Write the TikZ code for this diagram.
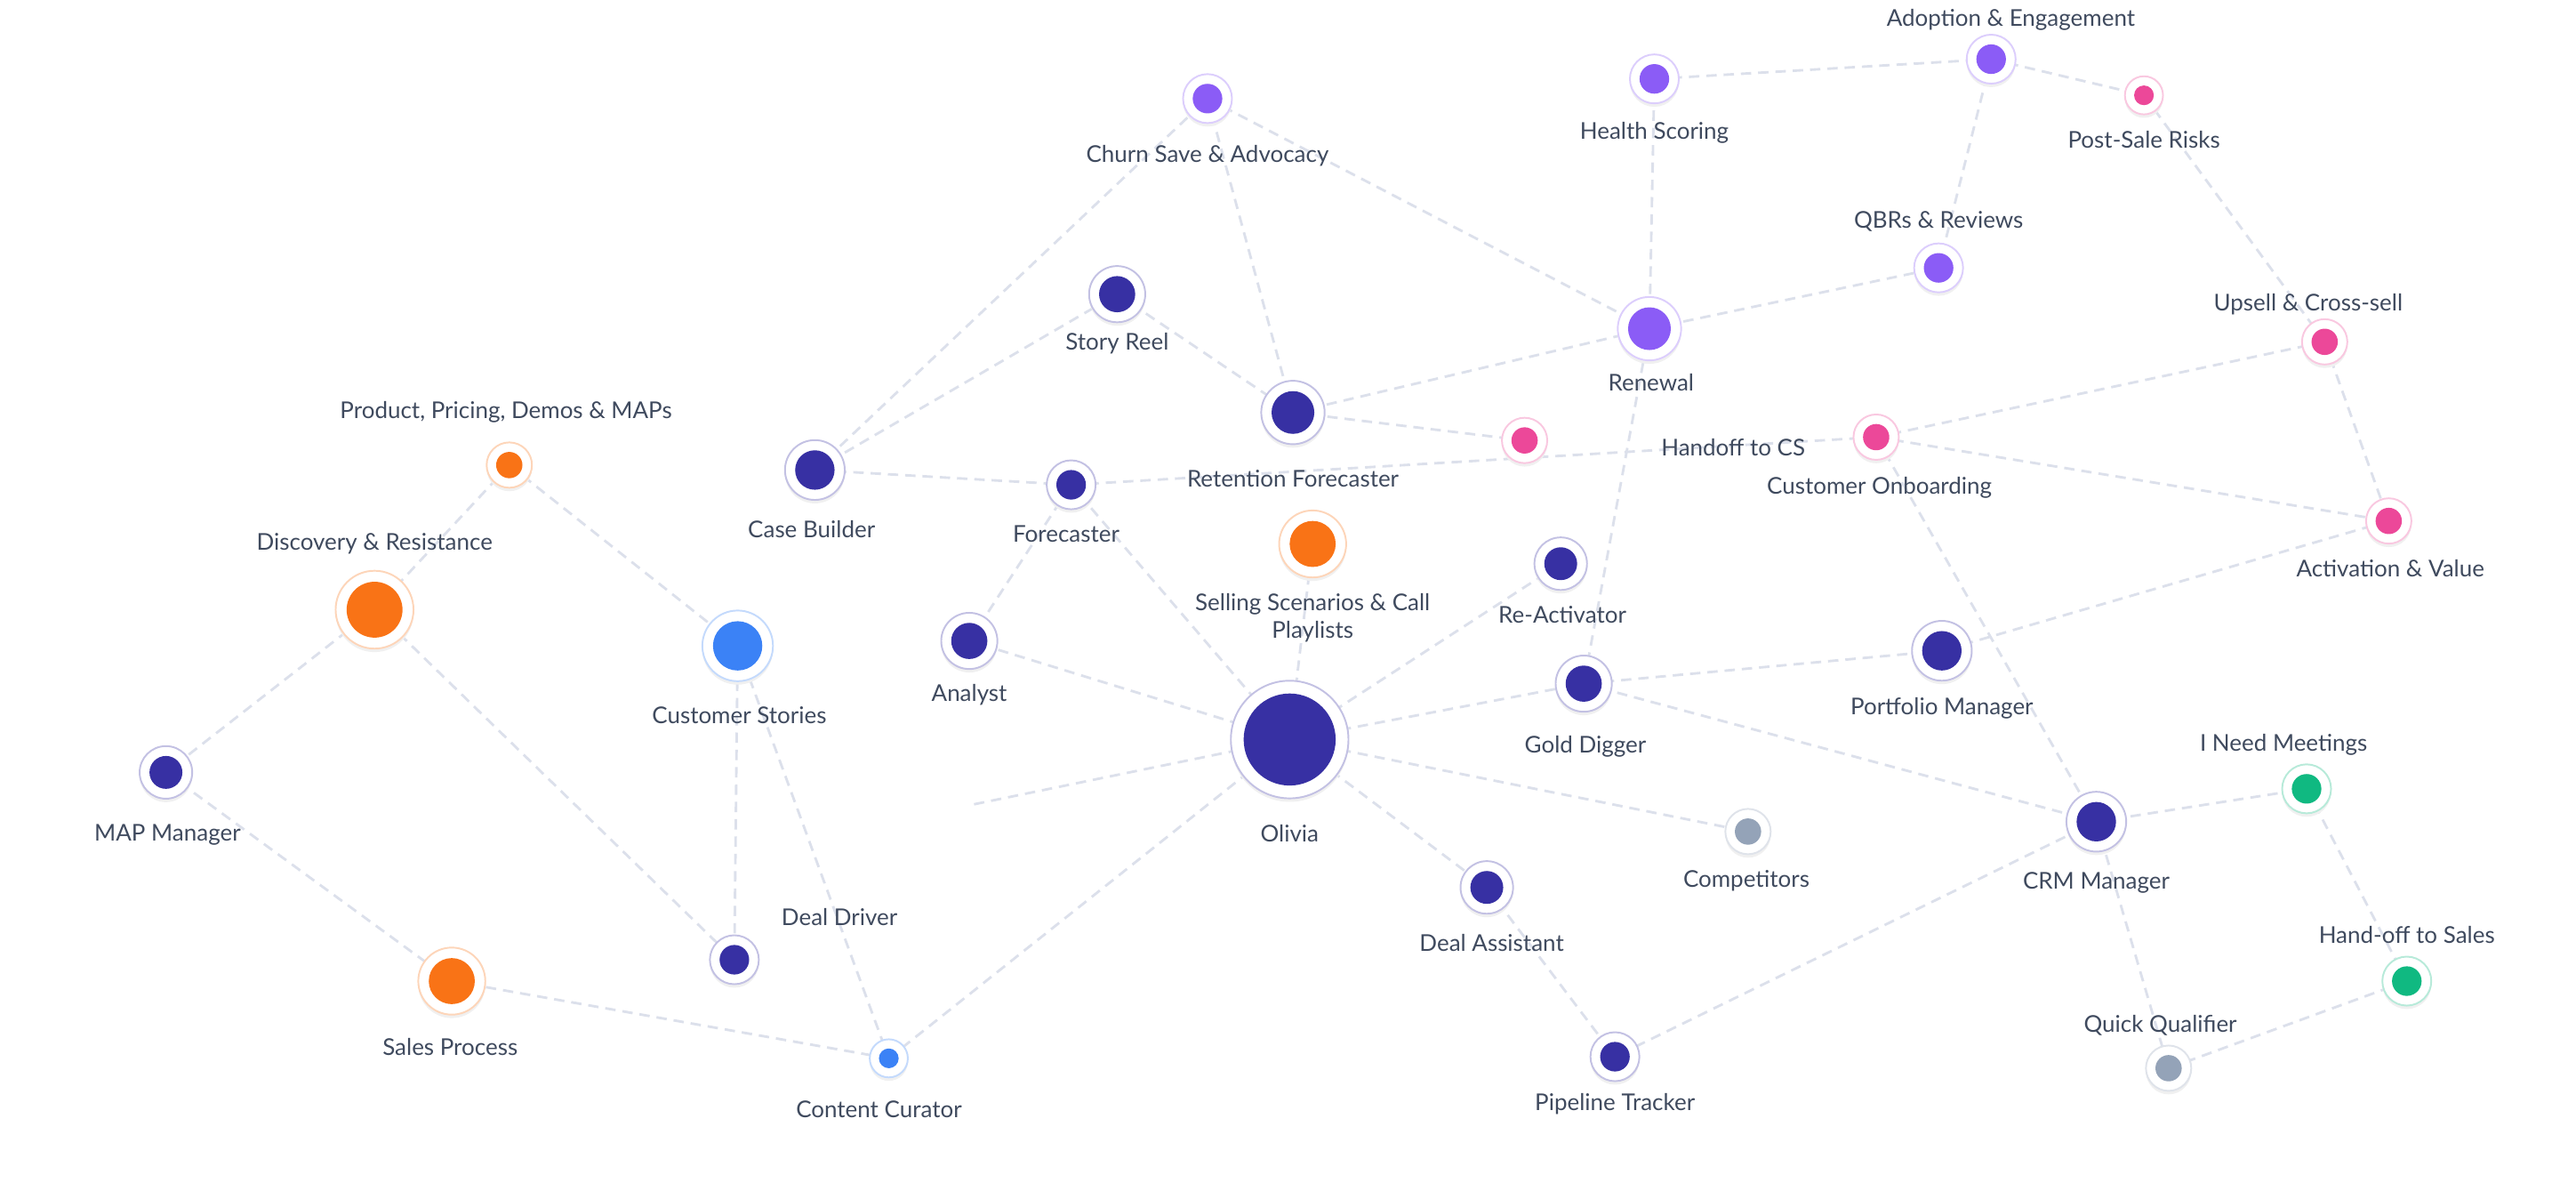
\documentclass[tikz,border=0pt]{standalone}
\usepackage{fontspec}
\setmainfont{Lato}
\definecolor{ind}{HTML}{3730A3}
\definecolor{pur}{HTML}{8B5CF6}
\definecolor{pnk}{HTML}{EC4899}
\definecolor{org}{HTML}{F97316}
\definecolor{blu}{HTML}{3B82F6}
\definecolor{gry}{HTML}{94A3B8}
\definecolor{grn}{HTML}{10B981}
\definecolor{txt}{HTML}{3F4A5E}
\definecolor{edg}{HTML}{DCE0EB}
\begin{document}
\begin{tikzpicture}[x=0.05cm,y=-0.05cm,
  edge/.style={draw=edg,line width=2.2pt,dash pattern=on 9pt off 6pt},
  lbl/.style={text=txt,font=\fontsize{20}{24}\selectfont,align=center,inner sep=0pt}]
\useasboundingbox (0,0) rectangle (1568,719.4);
\coordinate (oli) at (785,450);
\coordinate (ana) at (590,390);
\coordinate (fore) at (652,295);
\coordinate (cb) at (496,286);
\coordinate (sr) at (680,179);
\coordinate (ret) at (787,251);
\coordinate (churn) at (735,60);
\coordinate (health) at (1007,48);
\coordinate (adopt) at (1212,36);
\coordinate (psr) at (1305,58);
\coordinate (qbr) at (1180,163);
\coordinate (ren) at (1004,200);
\coordinate (pk) at (928,268);
\coordinate (hcs) at (1142,266);
\coordinate (ups) at (1415,208);
\coordinate (act) at (1454,317);
\coordinate (ppd) at (310,283);
\coordinate (disc) at (228,371);
\coordinate (map) at (101,470);
\coordinate (sp) at (275,597);
\coordinate (cs) at (449,393);
\coordinate (dd) at (447,584);
\coordinate (cc) at (541,644);
\coordinate (sel) at (799,331);
\coordinate (rea) at (950,343);
\coordinate (gd) at (964,416);
\coordinate (pm) at (1182,396);
\coordinate (comp) at (1064,506);
\coordinate (da) at (905,540);
\coordinate (pt) at (983,643);
\coordinate (crm) at (1276,500);
\coordinate (inm) at (1404,480);
\coordinate (hos) at (1465,597);
\coordinate (qq) at (1320,650);
\coordinate (free) at (590,490);
\foreach \a/\b in {oli/ana,oli/fore,oli/sel,oli/rea,oli/gd,oli/comp,oli/da,oli/cc,oli/free,
  ana/fore,fore/cb,fore/hcs,ret/pk,cb/churn,cb/sr,sr/ret,churn/ret,churn/ren,ret/ren,ren/qbr,
  ren/health,ren/gd,health/adopt,adopt/psr,adopt/qbr,psr/ups,ups/hcs,ups/act,hcs/act,hcs/crm,
  act/pm,pm/gd,gd/crm,crm/pt,crm/inm,crm/qq,inm/hos,hos/qq,da/pt,ppd/disc,ppd/cs,disc/map,
  disc/dd,map/sp,sp/cc,cs/dd,cs/cc}
  \draw[edge] (\a) -- (\b);
\foreach \n/\r/\c in {oli/28/ind,ana/11/ind,fore/9/ind,cb/12/ind,sr/11/ind,ret/13/ind,
  churn/9/pur,health/9/pur,adopt/9/pur,psr/6/pnk,qbr/9/pur,ren/13/pur,pk/8/pnk,hcs/8/pnk,
  ups/8/pnk,act/8/pnk,ppd/8/org,disc/17/org,map/10/ind,sp/14/org,cs/15/blu,dd/9/ind,cc/6/blu,
  sel/14/org,rea/10/ind,gd/11/ind,pm/12/ind,comp/8/gry,da/10/ind,pt/9/ind,crm/12/ind,
  inm/9/grn,hos/9/grn,qq/8/gry}{
  \fill[black!6] ([yshift=-3pt]\n) circle ({\r*1.1+5});
  \draw[\c!30,fill=white,line width=1.5pt] (\n) circle ({\r*1.1+5});
  \fill[\c] (\n) circle (\r);
}
\foreach \x/\y/\t in {735/95/Churn Save \& Advocacy,1007/81/Health Scoring,1224/12/Adoption \& Engagement,
  1305/85/Post-Sale Risks,1180/135/QBRs \& Reviews,1005/233/Renewal,1405/185/Upsell \& Cross-sell,
  1055/272/Handoff to CS,1144/297/Customer Onboarding,1455/346/Activation \& Value,680/209/Story Reel,
  787/291/Retention Forecaster,308/251/{Product, Pricing, Demos \& MAPs},228/331/Discovery \& Resistance,
  494/322/Case Builder,649/325/Forecaster,799/376/Selling Scenarios \& Call\\Playlists,951/374/Re-Activator,
  590/423/Analyst,450/435/Customer Stories,965/454/Gold Digger,1182/431/Portfolio Manager,
  1390/453/I Need Meetings,102/508/MAP Manager,785/507/Olivia,1063/536/Competitors,1276/537/CRM Manager,
  511/558/Deal Driver,908/574/Deal Assistant,1465/569/Hand-off to Sales,274/637/Sales Process,
  1315/624/Quick Qualifier,535/675/Content Curator,983/672/Pipeline Tracker}
  \node[lbl] at (\x,\y) {\t};
\end{tikzpicture}
\end{document}
